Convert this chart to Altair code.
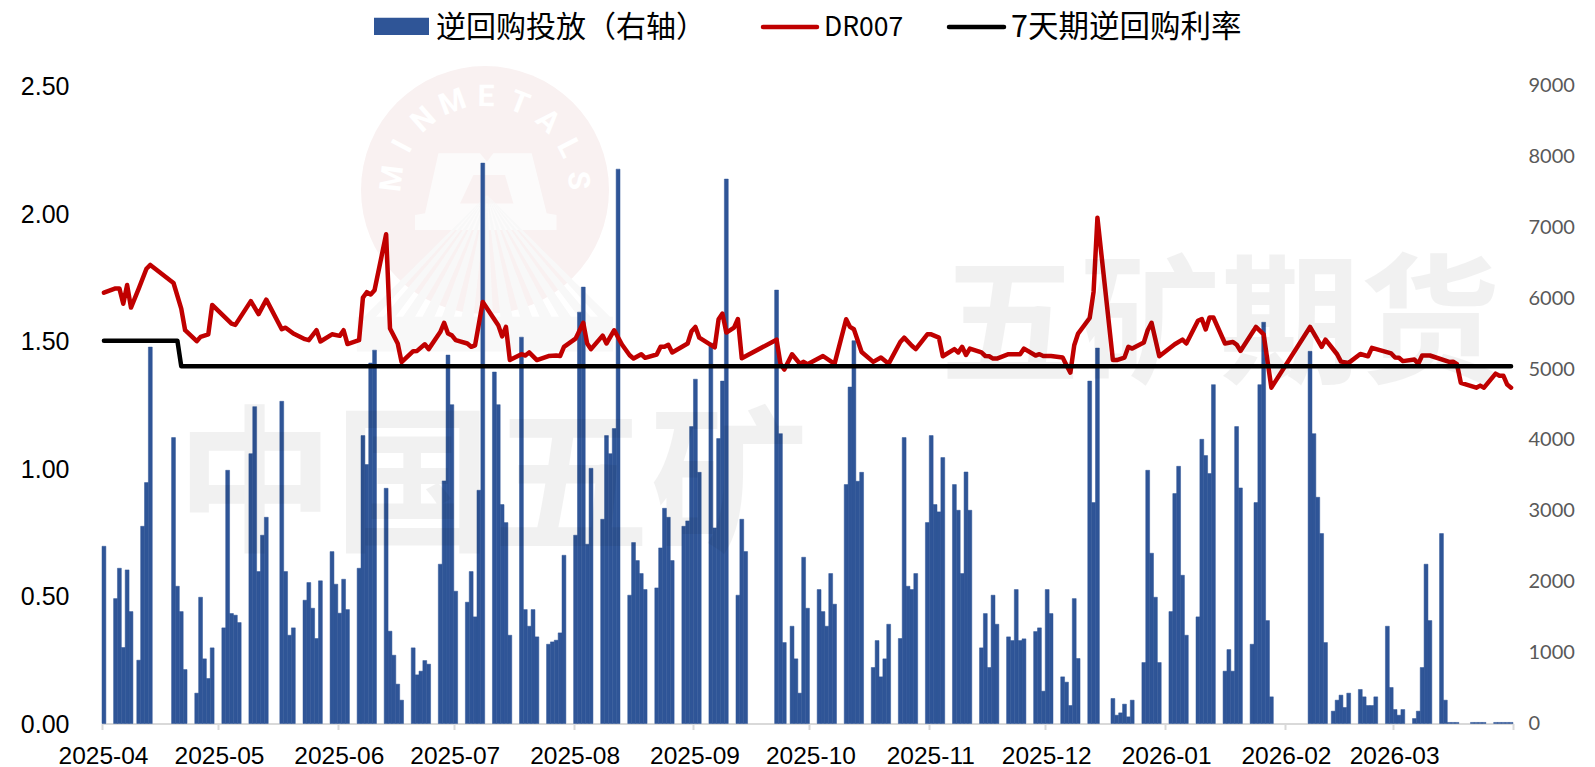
import altair as alt
import numpy as np
import pandas as pd

# ---- reverse repo (right axis): first day offset of each run, values of that run
bar_starts = [0, 3, 9, 18, 24, 31, 38, 46, 52, 59, 66, 73, 80, 87, 94, 101, 108, 115, 122, 129,
              136, 143, 150, 157, 164, 174, 178, 185, 192, 199, 206, 213, 220, 227, 234, 241,
              248, 255, 261, 269, 276, 283, 290, 297, 312, 318, 325, 332, 339, 346, 354, 360]
bar_runs = [
    [2500], [1762, 2190, 1072, 2167, 1579], [893, 2782, 3398, 5310], [4033, 1936, 1579, 761],
    [428, 1781, 912, 635, 1067], [1349, 3572, 1551, 1528, 1424], [3807, 4470, 2143, 2656, 2909],
    [4545, 2143, 1245, 1349], [1739, 1988, 1626, 1199, 2012], [2425, 1965, 1556, 2035, 1607],
    [2190, 4061, 3652, 5085, 5267], [3318, 1302, 963, 555, 329], [1067, 686, 738, 888, 837],
    [2247, 3422, 5197, 4498, 1866], [1711, 2143, 1504, 3290, 7905], [4958, 4498, 3088, 2834, 1245],
    [5450, 1607, 1372, 1607, 1222], [1118, 1151, 1175, 1278, 2373], [2656, 5803, 6156, 2529, 3600],
    [2881, 4061, 3807, 4160, 7820], [1810, 2552, 2298, 2115, 1889], [1913, 2477, 3036, 2909, 2298],
    [2782, 2858, 4188, 4857, 3543], [5366, 2759, 4019, 4830, 7680], [1810, 2881, 2425],
    [6114, 4089, 1142], [1372, 912, 428, 2345, 1626], [1889, 1579, 1372, 2115, 1683],
    [3370, 4746, 5400, 3417, 3543], [790, 1170, 658, 912, 1400], [1199, 4033, 1936, 1889, 2115],
    [2834, 4061, 3088, 2985, 3751], [3370, 3008, 2115, 3548, 3008], [1067, 1551, 790, 1810, 1400],
    [1222, 1170, 1889, 1170, 1194], [1297, 1349, 456, 1889, 1551], [658, 583, 254, 1762, 917],
    [4830, 3116, 5296], [353, 117, 150, 273, 94, 329], [860, 3572, 2402, 1781, 860],
    [1579, 3243, 3628, 2091, 1245], [1504, 4009, 3779, 3525, 4780], [738, 1043, 738, 4188, 3323],
    [1118, 3116, 4780, 5660, 1452, 376], [5250, 4089, 3191, 2679, 1142], [174, 329, 400, 226, 428],
    [480, 376, 254, 254, 376], [1372, 508, 197, 117, 197], [70, 174, 790, 2247, 1452],
    [2679, 329, 15, 15, 15], [15, 15, 15, 15], [15, 15, 15, 15, 15],
]

# ---- DR007 (left axis)
dr_days = [0, 3, 4, 5, 6, 7, 9, 11, 12, 18, 20, 21, 24, 25, 27, 28, 33, 34, 38, 40, 42, 46, 47, 49, 52, 53,
           55, 56, 59, 61, 62, 63, 66, 67, 68, 69, 70, 73, 74, 76, 77, 80, 81, 83, 84, 87, 88, 89, 90, 91,
           94, 95, 96, 98, 102, 103, 104, 105, 108, 109, 110, 112, 115, 117, 118, 119, 122, 124, 125, 126,
           129, 130, 132, 134, 136, 137, 139, 140, 143, 144, 145, 146, 147, 151, 152, 153, 154, 158, 159,
           160, 161, 163, 164, 165, 174, 175, 176, 178, 180, 181, 182, 186, 189, 192, 193, 194, 196, 199,
           201, 203, 206, 207, 209, 210, 213, 214, 216, 217, 220, 221, 222, 223, 224, 227, 228, 229, 230,
           231, 234, 237, 238, 241, 242, 243, 245, 248, 249, 250, 251, 252, 255, 256, 257, 261, 262, 264,
           265, 266, 269, 270, 271, 273, 277, 279, 280, 283, 284, 285, 286, 287, 290, 292, 293, 294, 298,
           300, 302, 312, 314, 315, 316, 319, 320, 322, 325, 327, 328, 333, 334, 335, 336, 339, 340, 341,
           343, 348, 349, 350, 351, 355, 356, 357, 360, 361, 362, 363, 364]
dr_rates = [1.688, 1.705, 1.705, 1.645, 1.718, 1.630, 1.704, 1.782, 1.797, 1.726, 1.626, 1.541, 1.498, 1.515,
            1.525, 1.640, 1.567, 1.562, 1.655, 1.604, 1.661, 1.545, 1.551, 1.528, 1.506, 1.502,
            1.541, 1.497, 1.525, 1.519, 1.541, 1.487, 1.502, 1.669, 1.690, 1.681, 1.698, 1.917, 1.548, 1.489,
            1.416, 1.459, 1.460, 1.486, 1.467, 1.534, 1.570, 1.528, 1.521, 1.502,
            1.489, 1.476, 1.482, 1.652, 1.561, 1.517, 1.554, 1.424, 1.447, 1.442, 1.454, 1.424, 1.440, 1.442,
            1.440, 1.476, 1.508, 1.570, 1.489, 1.467,
            1.520, 1.489, 1.541, 1.485, 1.443, 1.430, 1.447, 1.433, 1.446, 1.476, 1.476, 1.484, 1.454, 1.489,
            1.537, 1.554, 1.512, 1.474, 1.584,
            1.606, 1.532, 1.551, 1.585, 1.431, 1.504, 1.410, 1.387, 1.447, 1.410, 1.417, 1.408, 1.440, 1.409,
            1.584, 1.554, 1.545, 1.456, 1.417,
            1.434, 1.410, 1.495, 1.512, 1.480, 1.467, 1.525, 1.525, 1.512, 1.439, 1.467, 1.454, 1.476, 1.444,
            1.469, 1.454, 1.440, 1.439, 1.430,
            1.430, 1.447, 1.447, 1.469, 1.442, 1.447, 1.440, 1.440, 1.434, 1.404, 1.375, 1.482, 1.528, 1.589,
            1.691, 1.982, 1.424, 1.424, 1.434,
            1.476, 1.469, 1.493, 1.541, 1.570, 1.439, 1.486, 1.504, 1.489, 1.578, 1.585, 1.544, 1.591, 1.591,
            1.489, 1.495, 1.485, 1.460, 1.554,
            1.525, 1.316, 1.554, 1.502, 1.476, 1.504, 1.447, 1.418, 1.413, 1.448, 1.439, 1.472, 1.450, 1.434,
            1.433, 1.420, 1.426, 1.410, 1.442,
            1.442, 1.417, 1.418, 1.408, 1.335, 1.316, 1.324, 1.316, 1.371, 1.363, 1.363, 1.328, 1.316]

# ---- 7-day reverse repo rate (left axis)
repo_days = [0, 19, 20, 364]
repo_rates = [1.5, 1.5, 1.4, 1.4]

month_ticks = ["2025-04-01", "2025-05-01", "2025-06-01", "2025-07-01", "2025-08-01", "2025-09-01", "2025-10-01",
               "2025-11-01", "2025-12-01", "2026-01-01", "2026-02-01", "2026-03-01", "2026-04-01"]
left_ticks = [0, 0.5, 1.0, 1.5, 2.0, 2.5]
right_ticks = [0, 1000, 2000, 3000, 4000, 5000, 6000, 7000, 8000, 9000]
wm_left = "中国五矿"
wm_right = "五矿期货"
logo_letters = list("MINMETALS")

ORIGIN = pd.Timestamp("2025-04-01")
PLOT_LEFT, PLOT_TOP = 102, 85.5
W, H = 1411, 638
FONT = "Noto Sans CJK SC"
NUM_FONT = "Liberation Sans"


def iso(day):
    return (ORIGIN + pd.Timedelta(days=float(day))).strftime("%Y-%m-%dT%H:%M:%SZ")


bar_days = [s + i for s, run in zip(bar_starts, bar_runs) for i in range(len(run))]
bar_vals = [v for run in bar_runs for v in run]
bars_df = pd.DataFrame({"d0": [iso(d) for d in bar_days], "d1": [iso(d + 1) for d in bar_days],
                        "v": bar_vals, "base": 0})
dr_df = pd.DataFrame({"d": [iso(d + 0.5) for d in dr_days], "v": dr_rates})
repo_df = pd.DataFrame({"d": [iso(d + 0.5) for d in repo_days], "v": repo_rates})

tick_ms = [int(pd.Timestamp(t).value // 10**6) for t in month_ticks]
x_scale = alt.Scale(type="utc", domain=[tick_ms[0], tick_ms[-1]])
x_axis = alt.Axis(values=tick_ms, title=None, grid=False, domainColor="#D9D9D9", domainWidth=2, tickColor="#D9D9D9",
                  tickWidth=2, tickSize=6, labelFont=NUM_FONT, labelFontSize=24.5, labelColor="#000000",
                  labelPadding=15, labelAngle=0, labelOverlap=False, labelFlush=False, labelOffset=1,
                  labelExpr=f"datum.value >= {tick_ms[-1]} ? '' : utcFormat(datum.value, '%Y-%m')")
left_axis = alt.Axis(values=left_ticks, format=".2f", title=None, grid=False, domain=False, ticks=False, orient="left",
                     labelFont=NUM_FONT, labelFontSize=25, labelColor="#000000", labelPadding=33, labelOffset=1)
right_axis = alt.Axis(values=right_ticks, format="d", title=None, grid=False, domain=False, ticks=False, orient="right",
                      labelFont="Lato", labelFontSize=20, labelColor="#595959", labelPadding=15)


def px(x):
    return alt.value(x - PLOT_LEFT)


def py(y):
    return alt.value(y - PLOT_TOP)


def shape_path(points):
    return "M" + "L".join(f"{a:.3f},{b:.3f}" for a, b in points) + "Z"


# watermark logo behind the data
cx, cy, r = 485, 190, 124
m_outline = [(-0.48, 0.233), (-0.48, 0.133), (-0.413, 0.122), (-0.324, -0.278), (-0.047, -0.278), (0, -0.222),
             (0.042, -0.278), (0.298, -0.278), (0.398, 0.122), (0.464, 0.133), (0.464, 0.233)]
m_notch = [(-0.18, 0.056), (-0.091, -0.133), (0.12, -0.133), (0.176, 0.056)]
logo = [alt.Chart().mark_point(filled=True, shape="circle", size=4 * r * r, color="#F9F1F1", opacity=1)
        .encode(x=px(cx), y=py(cy)),
        alt.Chart().mark_point(filled=True, shape=shape_path(m_outline), size=90000, color="#FCFBFB", opacity=1)
        .encode(x=px(487), y=py(195)),
        alt.Chart().mark_point(filled=True, shape=shape_path(m_notch), size=90000, color="#F9F1F1", opacity=1)
        .encode(x=px(487), y=py(195))]
for i, ch in enumerate(logo_letters):
    a = -83 + i * 20.9
    ang = (a + 360) % 360
    rr = np.radians(a)
    logo.append(alt.Chart().mark_text(text=ch, font="Roboto", fontWeight="bold", fontSize=30, color="#FFFFFF",
                                      angle=ang, baseline="middle", align="center")
                .encode(x=px(cx + 93 * np.sin(rr)), y=py(cy - 93 * np.cos(rr))))
# fan of faint rays under the M, ending on a faint band
fan = ""
for c in np.linspace(-0.39, 0.39, 13):
    fan += shape_path([(0, 0), (c - 0.02, 0.406), (c + 0.02, 0.406)])
fan += shape_path([(-0.434, 0.406), (0.42, 0.406), (0.42, 0.522), (-0.434, 0.522)])
logo.append(alt.Chart().mark_point(filled=True, shape=fan, size=360000, color="#F8F8F8", opacity=1)
            .encode(x=px(487), y=py(195)))

bars = alt.Chart(bars_df).mark_rect(color="#2F5597", stroke="#2F5597", strokeWidth=0.5).encode(
    x=alt.X("d0:T", scale=x_scale, axis=x_axis),
    x2="d1:T",
    y=alt.Y("v:Q", scale=alt.Scale(domain=[0, 9000], nice=False), axis=right_axis),
    y2="base:Q",
)
y_left = alt.Y("v:Q", scale=alt.Scale(domain=[0, 2.5], nice=False), axis=left_axis)
red = alt.Chart(dr_df).mark_line(color="#C00000", strokeWidth=4.5, strokeCap="round", strokeJoin="round").encode(
    x=alt.X("d:T", scale=x_scale, axis=x_axis), y=y_left)
black = alt.Chart(repo_df).mark_line(color="#000000", strokeWidth=4.5, strokeCap="round", strokeJoin="round").encode(
    x=alt.X("d:T", scale=x_scale, axis=x_axis), y=alt.Y("v:Q", scale=alt.Scale(domain=[0, 2.5], nice=False), axis=None))

# big text watermarks over the data
wm = [
    alt.Chart().mark_text(text=wm_left, font=FONT, fontWeight="bold", fontSize=158, color="#000000",
                          opacity=0.05, baseline="middle", align="center").encode(x=px(492), y=py(492)),
    alt.Chart().mark_text(text=wm_right, font=FONT, fontWeight="bold", fontSize=140, color="#000000",
                          opacity=0.05, baseline="middle", align="center").encode(x=px(1220), y=py(330)),
]

# legend
legend = [
    alt.Chart().mark_rect(color="#2F5597").encode(x=px(374), x2=px(429), y=py(17.7), y2=py(35)),
    alt.Chart().mark_rule(color="#C00000", strokeWidth=4.5, strokeCap="round").encode(x=px(763), x2=px(817), y=py(27)),
    alt.Chart().mark_rule(color="#000000", strokeWidth=4.5, strokeCap="round").encode(x=px(949), x2=px(1004), y=py(27)),
    alt.Chart().mark_text(text="逆回购投放（右轴）", font=FONT, fontSize=30, align="left", baseline="middle",
                          color="#000000").encode(x=px(436), y=py(27.5)),
    alt.Chart().mark_text(text="DR007", font=FONT, fontSize=26.5, align="left", baseline="middle",
                          color="#000000").encode(x=px(824), y=py(27.5)),
    alt.Chart().mark_text(text="7天期逆回购利率", font=FONT, fontSize=30.5, align="left", baseline="middle",
                          color="#000000").encode(x=px(1011), y=py(27.5)),
]

chart = alt.layer(*logo, bars, red, black, *wm, *legend).resolve_scale(y="independent").properties(
    width=W, height=H,
    autosize=alt.AutoSizeParams(type="none"),
    padding={"left": PLOT_LEFT - 8, "top": PLOT_TOP - 8, "right": 1579 - (PLOT_LEFT - 8) - W, "bottom": 775 - (PLOT_TOP - 8) - H},
    background="#FFFFFF",
).configure_view(stroke=None)

chart.save("out.html", embed_options={"renderer": "svg", "actions": False})
